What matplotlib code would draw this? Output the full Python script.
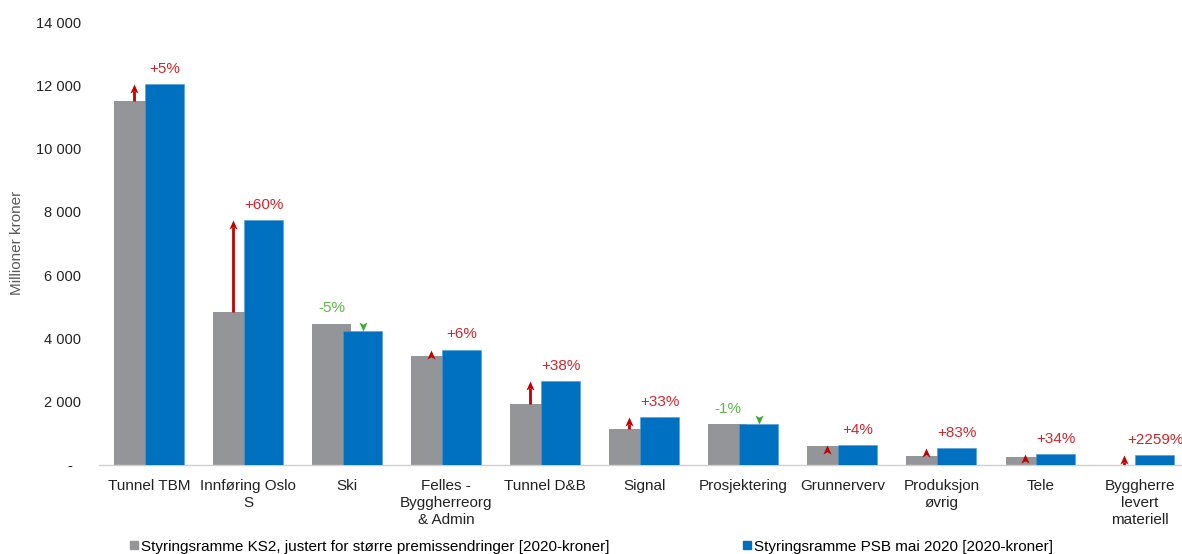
import matplotlib
matplotlib.use("Agg")
import matplotlib.pyplot as plt
from matplotlib.path import Path
from matplotlib.patches import Patch
import numpy as np

plt.rcParams['font.family'] = ['Liberation Sans', 'DejaVu Sans']

categories = ["Tunnel TBM", "Innføring Oslo\nS", "Ski", "Felles -\nByggherreorg\n& Admin",
              "Tunnel D&B", "Signal", "Prosjektering", "Grunnerverv",
              "Produksjon\nøvrig", "Tele", "Byggherre\nlevert\nmateriell"]
ks2 = [11500, 4830, 4470, 3450, 1920, 1130, 1300, 600, 290, 260, 14]
psb = [12050, 7740, 4240, 3650, 2650, 1510, 1290, 625, 540, 350, 320]
changes = ["+5%", "+60%", "-5%", "+6%", "+38%", "+33%", "-1%", "+4%", "+83%", "+34%", "+2259%"]

series_names = ["Styringsramme KS2, justert for større premissendringer [2020-kroner]",
                "Styringsramme PSB mai 2020 [2020-kroner]"]
yticks = [0, 2000, 4000, 6000, 8000, 10000, 12000, 14000]

GREY = "#939598"
BLUE = "#0070C0"
RED_TXT = "#D0262C"
RED_ARR = "#C00000"
GREEN_TXT = "#5DB84A"
GREEN_ARR = "#3DA935"

W, H = 1182, 554
fig = plt.figure(figsize=(W / 100, H / 100), dpi=100)
ax = fig.add_axes([99.5 / W, 1 - 465 / H, (W - 99.5) / W, (465 - 22) / H])

x = np.arange(len(categories))
off, bw = 0.156, 0.394
ax.bar(x - off, ks2, width=bw, color=GREY, zorder=2)
ax.bar(x + off, psb, width=bw, color=BLUE, edgecolor="#4A9BD6", linewidth=0.4, zorder=3)

ax.set_xlim(-0.5, -0.5 + (W - 99.5) / 99.05)
ax.set_ylim(0, 14000)
ax.set_yticks(yticks)
ax.set_yticklabels(["-  " if v == 0 else f"{v:,}".replace(",", " ") for v in yticks])
ax.set_xticks(x)
ax.set_xticklabels(categories, linespacing=1.3)
ax.tick_params(axis="both", length=0, colors="#222222")
ax.tick_params(axis="x", pad=10, labelsize=11)
ax.tick_params(axis="y", pad=13, labelsize=10.5)
for s in ["top", "right", "left"]:
    ax.spines[s].set_visible(False)
ax.spines["bottom"].set_color("#D0D0D0")
ax.spines["bottom"].set_linewidth(1.0)

fig.text(17 / W, 1 - 243 / H, "Millioner kroner", rotation=90, ha="center", va="center",
         fontsize=11, color="#595959")

# arrowhead marker: tip at origin, base one unit away
head_up = Path([(0, 0), (0.45, -1), (0, -0.75), (-0.45, -1), (0, 0)],
               [Path.MOVETO, Path.LINETO, Path.LINETO, Path.LINETO, Path.CLOSEPOLY])
head_down = Path([(0, 0), (0.45, 1), (0, 0.75), (-0.45, 1), (0, 0)],
                 [Path.MOVETO, Path.LINETO, Path.LINETO, Path.LINETO, Path.CLOSEPOLY])
ms = 13  # head length = ms/2 points
head_len = ms / 2 * 100 / 72 / ((465 - 22) / 14000)  # in data units

for i, (a, b, lab) in enumerate(zip(ks2, psb, changes)):
    if b >= a:
        xi = i - off
        if b - head_len > a:
            ax.plot([xi, xi], [a, b - head_len * 0.8], color=RED_ARR, lw=2, zorder=5,
                    solid_capstyle="butt")
        ax.plot(xi, b, marker=head_up, markersize=ms, color=RED_ARR, mew=0, zorder=6)
        ax.text(i + off, b + 480, lab, ha="center", va="center", fontsize=11, color=RED_TXT)
    else:
        xi = i + off
        if a > b + head_len:
            ax.plot([xi, xi], [a, b + head_len * 0.8], color=GREEN_ARR, lw=2, zorder=5)
        ax.plot(xi, b, marker=head_down, markersize=ms, color=GREEN_ARR, mew=0, zorder=6)
        ax.text(i - off, a + 480, lab, ha="center", va="center", fontsize=11, color=GREEN_TXT)

handles = [Patch(color=GREY), Patch(color=BLUE)]
fig.legend(handles, series_names, loc="center left", bbox_to_anchor=(130 / W, 1 - 546.5 / H),
           ncol=2, frameon=False, fontsize=11, handlelength=0.5, handleheight=0.5,
           handletextpad=0.25, columnspacing=8.7, borderaxespad=0, borderpad=0)

fig.savefig("out.png", dpi=100)
